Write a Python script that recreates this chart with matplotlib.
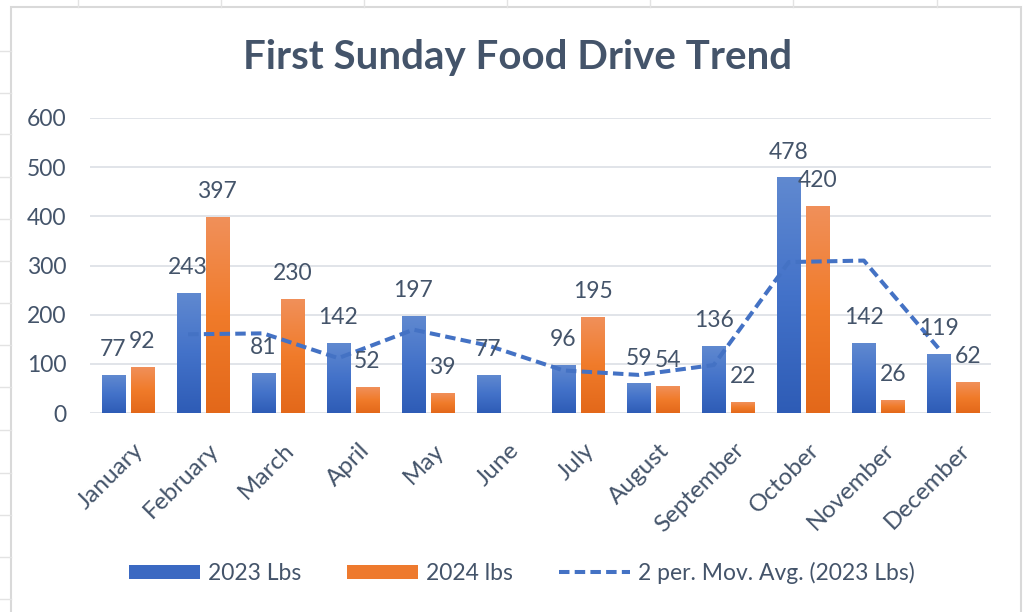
"""First Sunday Food Drive Trend - 2023 vs 2024 pounds collected"""
import numpy as np
import matplotlib
matplotlib.use('Agg')
import matplotlib.pyplot as plt
from matplotlib.colors import LinearSegmentedColormap
from matplotlib.patches import Patch, Rectangle
from matplotlib.lines import Line2D
from matplotlib.transforms import ScaledTranslation

plt.rcParams['font.family'] = ['Lato', 'DejaVu Sans']

#%% data
months = ['January', 'February', 'March', 'April', 'May', 'June', 'July',
          'August', 'September', 'October', 'November', 'December']
lbs_2023 = [77, 243, 81, 142, 197, 77, 96, 59, 136, 478, 142, 119]
lbs_2024 = [92, 397, 230, 52, 39, np.nan, 195, 54, 22, 420, 26, 62]
# 2 period moving average trendline, starts at February
mov_avg_months = months[1:]
mov_avg_2023 = [160, 162, 111.5, 169.5, 137, 86.5, 77.5, 97.5, 307, 310, 130.5]
y_ticks = [0, 100, 200, 300, 400, 500, 600]

TEXT = '#44546A'
BLUE = '#4472C4'
blue_grad = LinearSegmentedColormap.from_list('b', ['#2E5CB6', '#4372C9', '#6089D0'])
orange_grad = LinearSegmentedColormap.from_list('o', ['#E3681A', '#F07B2A', '#F1905A'])

#%% figure
fig = plt.figure(figsize=(10.23, 6.12), dpi=100)
ax = fig.add_axes([90 / 1023, 1 - 413 / 612, 901 / 1023, 295 / 612])

x = np.arange(len(months))
width = 0.307
off = 0.193


def gradient_bars(xpos, vals, cmap):
    """Draws bars and paints each with a vertical gradient"""
    bars = ax.bar(xpos, vals, width, color='none', edgecolor='none', zorder=2)
    grad = np.linspace(0, 1, 256).reshape(-1, 1)
    for b, v in zip(bars, vals):
        if np.isnan(v):
            continue
        x0 = b.get_x()
        ax.imshow(grad, extent=[x0, x0 + b.get_width(), 0, b.get_height()],
                  origin='lower', cmap=cmap, aspect='auto', zorder=2)
        ax.annotate(f'{v:.0f}', (x0 + b.get_width() / 2, b.get_height()),
                    xytext=(0, 18.7), textcoords='offset points',
                    ha='center', va='center', fontsize=16.5, color=TEXT, zorder=5)
    return bars


gradient_bars(x - off, lbs_2023, blue_grad)
gradient_bars(x + off, lbs_2024, orange_grad)

ma_x = np.array([months.index(m) for m in mov_avg_months]) - off
ax.plot(ma_x, mov_avg_2023, color=BLUE, lw=2.9, dashes=(2.6, 1.3), zorder=4)

ax.set_xlim(-0.5, len(months) - 0.5)
ax.set_ylim(0, 600)
ax.set_yticks(y_ticks)
ax.yaxis.grid(True, color='#DCDFE5', lw=1.2, zorder=0)
ax.set_axisbelow(True)
for s in ax.spines.values():
    s.set_visible(False)
ax.tick_params(length=0, labelcolor=TEXT)
ax.tick_params(axis='y', pad=17, labelsize=16.5)
ax.tick_params(axis='x', pad=19, labelsize=17.5)
ax.set_xticks(x)
ax.set_xticklabels(months, rotation=45, ha='right', va='top', rotation_mode='anchor')
for lbl in ax.get_xticklabels():
    lbl.set_transform(lbl.get_transform() + ScaledTranslation(4 / 72, 0, fig.dpi_scale_trans))

fig.text(0.506, 1 - 58 / 612, 'First Sunday Food Drive Trend', ha='center', va='center',
         fontsize=29, fontweight='bold', color=TEXT)

handles = [Patch(facecolor='#3B69C2'), Patch(facecolor='#EE7A2E'),
           Line2D([], [], color=BLUE, lw=2.9, dashes=(2.6, 1.3))]
labels = ['2023 Lbs', '2024 lbs', '2 per. Mov. Avg. (2023 Lbs)']
fig.legend(handles, labels, loc='center', bbox_to_anchor=(0.51, 1 - 573 / 612), ncol=3,
           frameon=False, fontsize=16.5, labelcolor=TEXT, handlelength=3.1,
           handleheight=0.6, handletextpad=0.35, columnspacing=2.0)

# chart frame and the sheet cells peeking out around it
fig.add_artist(Rectangle((11 / 1023, -0.05), 1010 / 1023, 1.05 - 7 / 612,
                         transform=fig.transFigure, fill=False, edgecolor='#D9D9D9', lw=1.5))
for cx in [78, 221, 364, 507, 650, 793, 937]:
    fig.add_artist(Line2D([cx / 1023] * 2, [1, 1 - 7 / 612], transform=fig.transFigure,
                          color='#E3E3E3', lw=1))
for ry in [51, 93, 134, 177, 219, 261, 303, 345, 387, 430, 473, 515, 557, 599]:
    fig.add_artist(Line2D([0, 11 / 1023], [1 - ry / 612] * 2, transform=fig.transFigure,
                          color='#E3E3E3', lw=1))

fig.savefig('out.png', dpi=100, facecolor='white')
